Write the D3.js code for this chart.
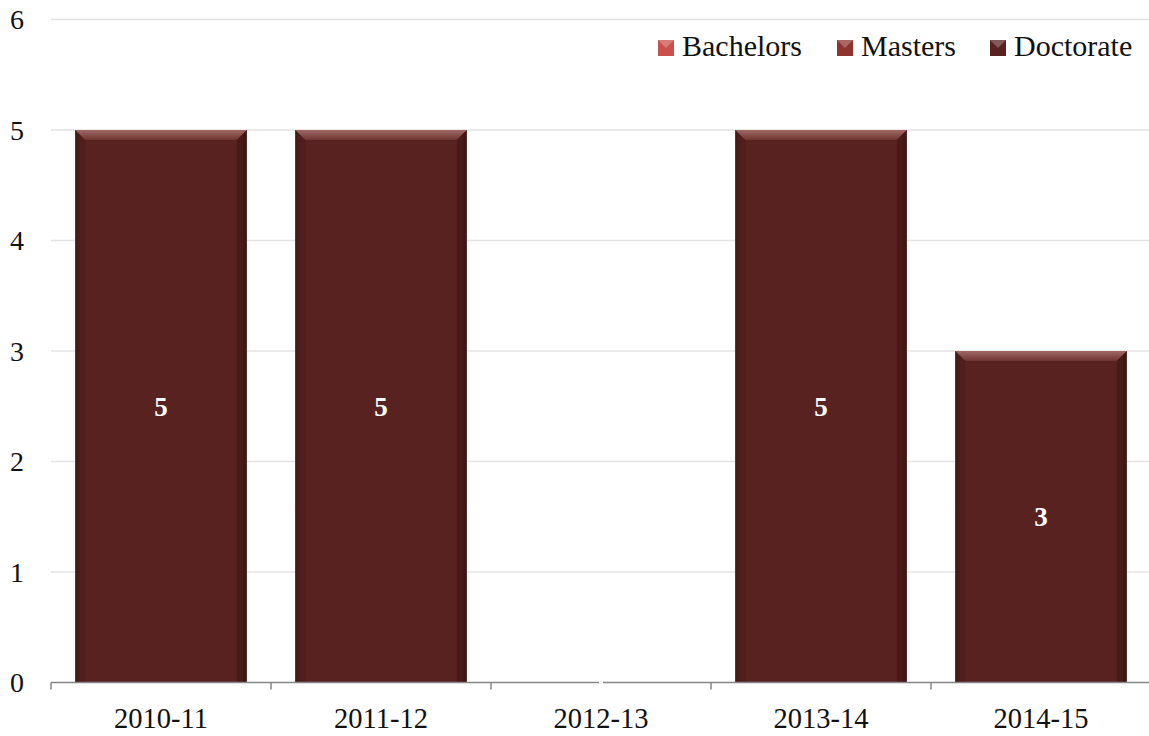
<!DOCTYPE html>
<html><head><meta charset="utf-8">
<script src="https://cdn.jsdelivr.net/npm/d3@7"></script>
<style>body{margin:0;background:#fff}svg{display:block}</style>
</head><body>
<svg id="c" width="1149" height="736"></svg>
<script>
const categories = ["2010-11","2011-12","2012-13","2013-14","2014-15"];
const seriesNames = ["Bachelors","Masters","Doctorate"];
const bachelors = [0,0,0,0,0];
const masters = [0,0,0,0,0];
const doctorate = [5,5,0,5,3];
const yTicks = [0,1,2,3,4,5,6];
const colors = {Bachelors:"#c9504c", Masters:"#8e3430", Doctorate:"#57221f"};

const svg = d3.select("#c");
const font = "'Liberation Serif','Times New Roman',serif";
const m = {l:51, r:1151, t:19.5, b:682.5};
const x = d3.scaleBand().domain(categories).range([m.l, m.r]).paddingInner(0.22).paddingOuter(0.11);
const y = d3.scaleLinear().domain([0,6]).range([m.b, m.t]);

const defs = svg.append("defs");
const g1 = defs.append("linearGradient").attr("id","side").attr("x1",0).attr("x2",1);
g1.append("stop").attr("offset","0").attr("stop-color","#3e1614");
g1.append("stop").attr("offset","0.03").attr("stop-color","#57221f");
g1.append("stop").attr("offset","0.97").attr("stop-color","#57221f");
g1.append("stop").attr("offset","1").attr("stop-color","#3a1412");
const g2 = defs.append("linearGradient").attr("id","topbev").attr("x1",0).attr("x2",0).attr("y1",0).attr("y2",1);
g2.append("stop").attr("offset","0").attr("stop-color","#a06a66");
g2.append("stop").attr("offset","1").attr("stop-color","#6e3431");

// grid
svg.append("g").selectAll("line").data(yTicks.filter(d=>d>0)).join("line")
  .attr("x1",m.l).attr("x2",1149).attr("y1",d=>y(d)).attr("y2",d=>y(d))
  .attr("stroke","#e3e3e3").attr("stroke-width",1.3);

// y labels
svg.append("g").selectAll("text").data(yTicks).join("text")
  .attr("x",17).attr("y",d=>y(d)).attr("dy","0.35em").attr("text-anchor","middle")
  .attr("font-family",font).attr("font-size",28).attr("fill","#111").text(d=>d);

// stacked data
const rows = categories.map((c,i)=>({cat:c, Bachelors:bachelors[i], Masters:masters[i], Doctorate:doctorate[i]}));
const stack = d3.stack().keys(seriesNames)(rows);

const bw = x.bandwidth();
stack.forEach(layer=>{
  const key = layer.key;
  layer.forEach((d,i)=>{
    const h = y(d[0]) - y(d[1]);
    if (h <= 0) return;
    const x0 = x(d.data.cat), y0 = y(d[1]);
    const g = svg.append("g");
    g.append("rect").attr("x",x0).attr("y",y0).attr("width",bw).attr("height",h)
      .attr("fill", key==="Doctorate" ? "url(#side)" : colors[key]);
    const bv = 10;
    g.append("path").attr("d",`M${x0},${y0}L${x0+bw},${y0}L${x0+bw-bv},${y0+bv}L${x0+bv},${y0+bv}Z`)
      .attr("fill","url(#topbev)");
    g.append("path").attr("d",`M${x0},${y0}L${x0+bv},${y0+bv}L${x0+bv},${y0+h}L${x0},${y0+h}Z`)
      .attr("fill","#4a1a18").attr("opacity",0.45);
    g.append("path").attr("d",`M${x0+bw},${y0}L${x0+bw-bv},${y0+bv}L${x0+bw-bv},${y0+h}L${x0+bw},${y0+h}Z`)
      .attr("fill","#3a1210").attr("opacity",0.45);
    g.append("text").attr("x",x0+bw/2).attr("y",(y(d[0])+y(d[1]))/2).attr("dy","0.35em")
      .attr("text-anchor","middle").attr("font-family",font).attr("font-weight","bold")
      .attr("font-size",27).attr("fill","#fff").text(d[1]-d[0]);
  });
});

// x axis
const ax = svg.append("g");
ax.append("line").attr("x1",m.l).attr("x2",1149).attr("y1",m.b).attr("y2",m.b)
  .attr("stroke","#868686").attr("stroke-width",1.5);
const tickXs = categories.map(c=>x(c)-x.step()*x.paddingInner()/2).concat([m.r]);
ax.selectAll("line.t").data(tickXs).join("line").attr("class","t")
  .attr("x1",d=>d).attr("x2",d=>d).attr("y1",m.b).attr("y2",m.b+7)
  .attr("stroke","#868686").attr("stroke-width",1.5);
ax.selectAll("text").data(categories).join("text")
  .attr("x",c=>x(c)+bw/2).attr("y",728).attr("text-anchor","middle")
  .attr("font-family",font).attr("font-size",28.5).attr("fill","#111").text(c=>c);
svg.append("line").attr("x1",x("2012-13")+bw/2-2).attr("x2",x("2012-13")+bw/2+2)
  .attr("y1",m.b).attr("y2",m.b).attr("stroke","#fff").attr("stroke-width",2);

// legend
const legendX = [658, 837, 990];
const lg = svg.append("g");
seriesNames.forEach((s,i)=>{
  const lx = legendX[i], ly = 40;
  lg.append("rect").attr("x",lx).attr("y",ly).attr("width",16).attr("height",16).attr("fill",colors[s]);
  lg.append("path").attr("d",`M${lx},${ly}L${lx+16},${ly}L${lx+8},${ly+8}Z`).attr("fill","#fff").attr("opacity",0.25);
  lg.append("text").attr("x",lx+24).attr("y",ly+16).attr("font-family",font)
    .attr("font-size",30).attr("fill","#111").text(s);
});
</script>
</body></html>
